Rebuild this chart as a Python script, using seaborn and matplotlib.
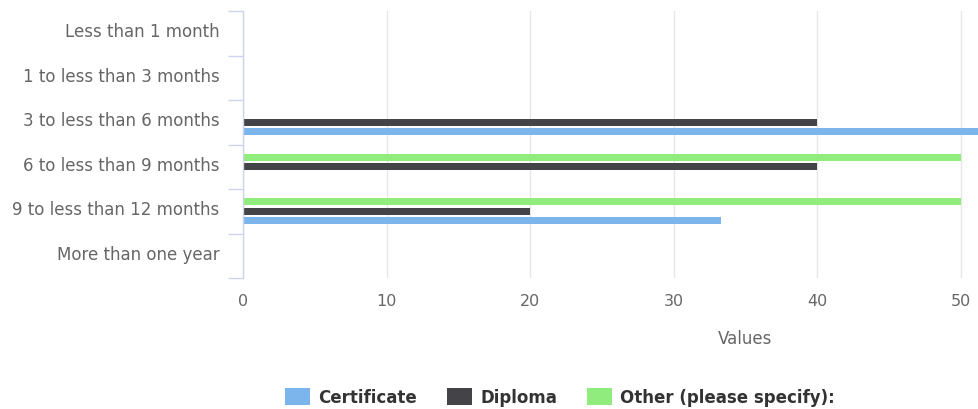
import matplotlib
matplotlib.use("Agg")
import matplotlib.pyplot as plt
import matplotlib.transforms as mtransforms
from matplotlib.patches import Patch
import numpy as np
import pandas as pd
import seaborn as sns

categories = [
    "Less than 1 month",
    "1 to less than 3 months",
    "3 to less than 6 months",
    "6 to less than 9 months",
    "9 to less than 12 months",
    "More than one year",
]
certificate = [0, 0, 66.7, 0, 33.3, 0]
diploma = [0, 0, 40, 40, 20, 0]
other = [0, 0, 0, 50, 50, 0]

series_names = ["Certificate", "Diploma", "Other (please specify):"]
series_values = [certificate, diploma, other]
colors = {"Certificate": "#7cb5ec", "Diploma": "#434348",
          "Other (please specify):": "#90ed7d"}

df = pd.DataFrame({
    "category": np.repeat([categories], len(series_names), axis=0).ravel(),
    "series": np.repeat(series_names, len(categories)),
    "value": np.concatenate(series_values),
})

sns.set_theme(style="white")
plt.rcParams["font.family"] = ["DejaVu Sans"]
text_color = "#666666"

fig = plt.figure(figsize=(9.79, 4.10), dpi=100)
# plot area runs past the right edge of the canvas (0..70 scale)
ax = fig.add_axes([243 / 979, 131 / 410, 1005 / 979, 267 / 410])

sns.barplot(
    data=df, y="category", x="value", hue="series",
    order=categories,
    hue_order=["Other (please specify):", "Diploma", "Certificate"],
    palette=colors, orient="h", width=0.64,
    dodge=True, legend=False, ax=ax, saturation=1,
)

# slimmer bars, keeping each one centred in its slot
bar_height = 0.15
for bar in ax.patches:
    cy = bar.get_y() + bar.get_height() / 2
    bar.set_height(bar_height)
    bar.set_y(cy - bar_height / 2)
    bar.set_edgecolor("none")

ax.set_xlim(0, 70)
ax.set_ylim(5.5, -0.5)
ax.set_xticks(np.arange(0, 51, 10))
for xv in np.arange(0, 71, 10):
    ax.axvline(xv, color="#e6e6e6", linewidth=1, zorder=0)
ax.set_axisbelow(True)

for side in ["top", "right", "bottom"]:
    ax.spines[side].set_visible(False)
ax.spines["left"].set_color("#ccd6eb")
ax.spines["left"].set_linewidth(1)
ax.spines["left"].set_zorder(3)

ax.set_yticks(np.arange(-0.5, 6, 1), minor=True)
ax.tick_params(axis="y", which="minor", length=11, color="#ccd6eb", width=1, left=True)
ax.tick_params(axis="y", which="major", length=0, pad=17, labelsize=12, labelcolor=text_color)
ax.tick_params(axis="x", which="major", length=0, pad=11, labelsize=11.5, labelcolor=text_color)

# category labels sit a little above the band centre
shift = mtransforms.ScaledTranslation(0, 4 / 100, fig.dpi_scale_trans)
for lbl in ax.get_yticklabels():
    lbl.set_transform(lbl.get_transform() + shift)

ax.set_ylabel("")
ax.set_xlabel("Values", fontsize=12, color=text_color, labelpad=15)

handles = [Patch(facecolor=colors[n], edgecolor="none") for n in series_names]
fig.legend(
    handles, series_names, loc="center", bbox_to_anchor=(560 / 979, 1 - 398 / 410),
    ncol=3, frameon=False, handlelength=1.5, handleheight=1.25, handletextpad=0.5,
    columnspacing=1.8, prop={"weight": "bold", "size": 12}, labelcolor="#333333",
)

fig.savefig("out.png", dpi=100)
